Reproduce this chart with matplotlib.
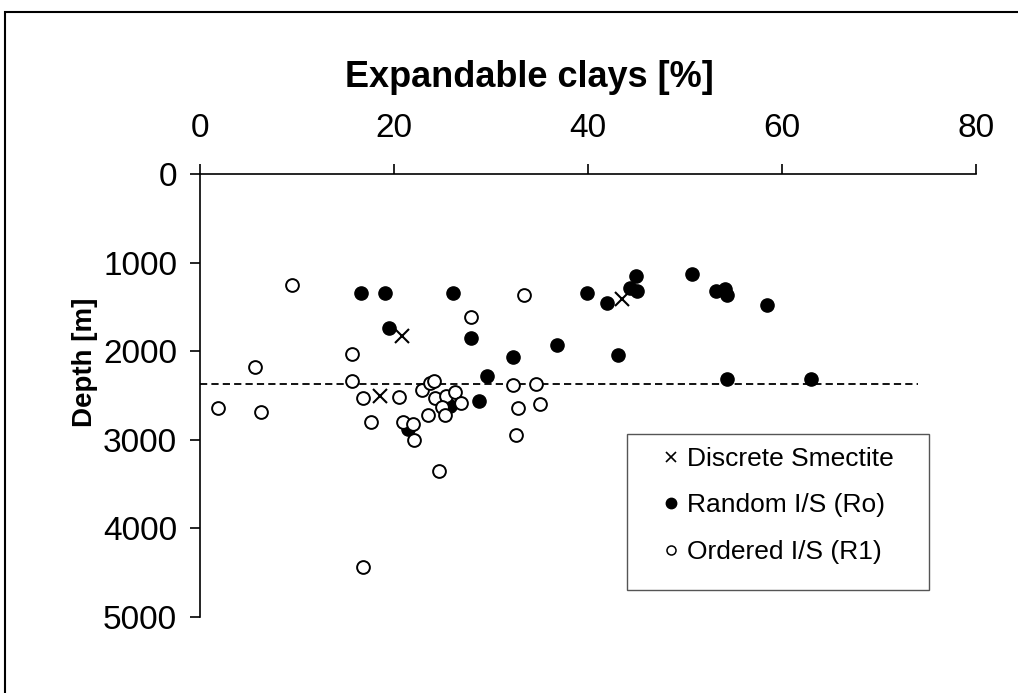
"""Expandable clay content versus depth, three I/S clay types."""

import matplotlib
matplotlib.use("Agg")
import matplotlib.pyplot as plt
from matplotlib.lines import Line2D
from matplotlib.patches import Rectangle

plt.rcParams["font.family"] = ["Liberation Sans", "DejaVu Sans"]

# Discrete smectite (crosses)
smectite_pct = [20.8, 18.6, 43.5]
smectite_depth = [1830, 2505, 1416]

# Random I/S (Ro), filled circles
random_pct = [16.6, 19.1, 26.05, 19.5, 27.9, 21.4, 32.3, 29.6, 28.8, 25.8,
              36.8, 43.1, 39.9, 42.0, 44.3, 45.0, 44.9, 50.7, 53.2, 54.1,
              54.3, 58.5, 54.3, 63.0]
random_depth = [1348, 1348, 1348, 1735, 1849, 2874, 2064, 2285, 2561, 2621,
                1932, 2045, 1341, 1454, 1292, 1318, 1153, 1133, 1318, 1303,
                1367, 1480, 2316, 2316]

# Ordered I/S (R1), open circles
ordered_pct = [9.45, 27.9, 33.4, 15.7, 5.64, 15.7, 1.86, 6.26, 16.8, 20.5,
               17.6, 20.9, 22.0, 22.1, 22.9, 23.7, 24.1, 24.2, 25.4, 26.3,
               24.9, 26.9, 25.3, 23.5, 24.6, 32.3, 34.6, 32.8, 35.1, 32.6,
               16.8]
ordered_depth = [1254, 1615, 1367, 2037, 2177, 2335, 2640, 2686, 2523, 2515,
                 2798, 2798, 2820, 3007, 2433, 2362, 2333, 2523, 2510, 2455,
                 2632, 2588, 2725, 2725, 3356, 2384, 2365, 2637, 2591, 2941,
                 4441]

boundary_depth = 2370
boundary_end_pct = 74

x_ticks = [0, 20, 40, 60, 80]
y_ticks = [0, 1000, 2000, 3000, 4000, 5000]

fig = plt.figure(figsize=(10.18, 6.93), dpi=100)
ax = fig.add_axes([200 / 1018, 1 - 617 / 693, 776 / 1018, 443 / 693])

ax.plot(random_pct, random_depth, "o", ms=9.5, mfc="black", mec="black",
        mew=1.0, ls="none", zorder=3)
ax.plot(ordered_pct, ordered_depth, "o", ms=9.2, mfc="white", mec="black",
        mew=1.4, ls="none", zorder=4)
ax.plot(smectite_pct, smectite_depth, "x", ms=9.5, color="black",
        mew=1.5, ls="none", zorder=5)
ax.plot([0, boundary_end_pct], [boundary_depth, boundary_depth], color="black",
        lw=1.3, dashes=(4.0, 2.3), zorder=2)

ax.set_xlim(0, 80)
ax.set_ylim(5000, 0)
ax.set_xticks(x_ticks)
ax.set_yticks(y_ticks)
ax.xaxis.tick_top()
ax.spines["bottom"].set_visible(False)
ax.spines["right"].set_visible(False)
for side in ("top", "left"):
    ax.spines[side].set_linewidth(1.2)
ax.tick_params(axis="both", direction="out", length=7.5, width=1.2,
               labelsize=24, colors="black")
ax.tick_params(axis="x", pad=14)
ax.tick_params(axis="y", pad=9)

ax.set_xlabel("Expandable clays [%]", fontsize=26, fontweight="bold",
              va="center", ha="center")
ax.xaxis.set_label_position("top")
ax.xaxis.set_label_coords(0.425, 1.197)
ax.set_ylabel("Depth [m]", fontsize=20, fontweight="bold", va="center",
              ha="center")
ax.yaxis.set_label_coords(-0.148, 0.5756)

# legend box
ax.add_patch(Rectangle((0.5503, 0.061), 0.3892, 0.352, transform=ax.transAxes,
                       fill=False, ec="#555555", lw=1.0, zorder=6,
                       clip_on=False))
handles = [
    Line2D([], [], marker="x", ls="none", color="black", ms=7.5, mew=1.2),
    Line2D([], [], marker="o", ls="none", mfc="black", mec="black", ms=7.5),
    Line2D([], [], marker="o", ls="none", mfc="white", mec="black", ms=6.5,
           mew=1.1),
]
labels = ["Discrete Smectite", "Random I/S (Ro)", "Ordered I/S (R1)"]
ax.legend(handles, labels, loc="upper left",
          bbox_to_anchor=(0.5966, 0.384), frameon=False, fontsize=19,
          handlelength=0.6, handletextpad=0.3, borderpad=0,
          borderaxespad=0, labelspacing=0.85)

# outer frame of the figure
fig.add_artist(Rectangle((5 / 1018, -0.1), 1.2, 1.1 - 12 / 693,
                         transform=fig.transFigure, fill=False,
                         ec="black", lw=1.5))

fig.savefig("out.png", dpi=100)
